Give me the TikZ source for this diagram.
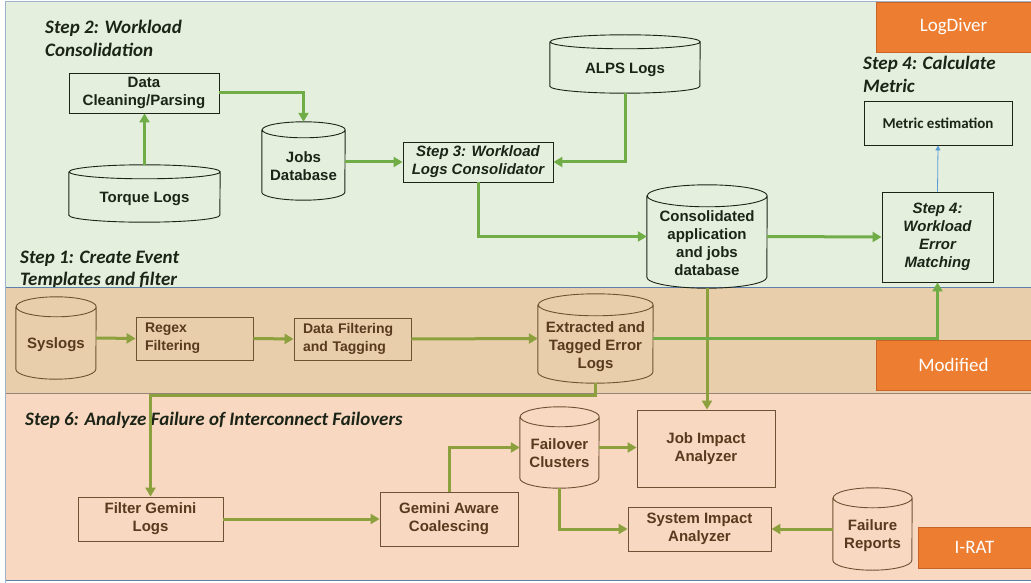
\documentclass[tikz,border=0pt]{standalone}
\usepackage{fontspec}
\usetikzlibrary{arrows.meta,calc}
\newfontfamily\boxfont{Liberation Sans}
\newfontfamily\calfont{Carlito}

\definecolor{bggreen}{RGB}{228,239,221}
\definecolor{bgtan}{RGB}{232,206,170}
\definecolor{bgpeach}{RGB}{248,216,192}
\definecolor{orangebox}{RGB}{237,125,49}
\definecolor{orangeedge}{RGB}{200,100,40}
\definecolor{arrgreen}{RGB}{112,173,71}
\definecolor{arrolive}{RGB}{140,160,62}
\definecolor{gink}{RGB}{28,36,24}
\definecolor{bink}{RGB}{88,58,30}
\definecolor{bline}{RGB}{110,82,52}
\definecolor{panelblue}{RGB}{92,128,170}
\definecolor{panelgray}{RGB}{150,132,118}
\definecolor{thinblue}{RGB}{91,155,213}

% database cylinder: a named body node for the anchors, a label node
% set a little below the centre, and the outline drawn around the body
\newcommand\dbcyl[9]{%
  \node[cylbody, minimum width=#5pt, minimum height=#6pt] (#1) at (#3,#4) {};
  \node[#2] (#1-label) at ($(#1.center)+(0,#8)$) {#9};
  \draw[#2 line] ([yshift=-#7pt]#1.north west) -- ([yshift=#7pt]#1.south west)
     arc[start angle=180, end angle=360, x radius=#5pt/2, y radius=#7pt]
     -- ([yshift=-#7pt]#1.north east)
     arc[start angle=0, end angle=360, x radius=#5pt/2, y radius=#7pt];
}

\tikzset{
  gtxt/.style={text=gink, font=\boxfont\bfseries\fontsize{15}{18}\selectfont, align=center, inner sep=0pt},
  btxt/.style={text=bink, font=\boxfont\bfseries\fontsize{15}{18}\selectfont, align=center, inner sep=0pt},
  gbox/.style={gtxt, draw=gink, line width=0.9pt, rectangle},
  bbox/.style={btxt, draw=bline, line width=0.9pt, rectangle},
  cylbody/.style={rectangle, inner sep=0pt},
  gcyl/.style={gtxt},
  gcyl line/.style={draw=gink, line width=0.9pt},
  bcyl/.style={btxt},
  bcyl line/.style={draw=bline, line width=0.9pt},
  title/.style={text=gink, font=\calfont\bfseries\itshape\fontsize{19}{23}\selectfont, align=left, inner sep=0pt, anchor=base west},
  tag/.style={fill=orangebox, draw=orangeedge, line width=0.8pt, text=white, font=\calfont\fontsize{19}{23}\selectfont, inner sep=0pt},
  ga/.style={draw=arrgreen, line width=3pt, -{Triangle[length=9pt,width=10pt]}},
  oa/.style={draw=arrolive, line width=3pt, -{Triangle[length=9pt,width=10pt]}},
  ba/.style={draw=thinblue, line width=0.8pt, -{Triangle[length=5pt,width=5pt]}},
}

\begin{document}
\begin{tikzpicture}[x=1pt,y=-1pt]
\useasboundingbox (0,0) rectangle (1031,583);

% green panel (LogDiver)
\fill[bggreen] (5,2) rectangle (1031,287);
\draw[panelblue!60, line width=1pt] (5,583) -- (5,2) -- (1031,2);

% step 1 caption sits on the seam, partly covered by the tan panel
\node[title] (t1) at (20,263) {Step 1: Create Event};
\node[title] (t1b) at (20,285) {Templates and filter};

% tan panel (Modified) and peach panel (I-RAT)
\fill[bgtan] (5,287) rectangle (1031,393);
\fill[bgpeach] (5,393) rectangle (1031,580);
\draw[panelblue, line width=1pt] (5,287) -- (1031,287);
\draw[panelgray, line width=1pt] (5,393) -- (1031,393);
\draw[panelblue, line width=1.6pt] (5,580.5) -- (1031,580.5);
\draw[panelblue!60, line width=1pt] (5,2) -- (5,581);

% captions
\node[title] (t2) at (45,34) {Step 2: Workload};
\node[title] (t2b) at (45,57) {Consolidation};
\node[title] (t4) at (863,70) {Step 4: Calculate};
\node[title] (t4b) at (863,93) {Metric};
\node[title] (t6) at (25,425) {Step 6: Analyze Failure of Interconnect Failovers};

% tool tags
\node[tag, minimum width=155pt, minimum height=50pt] (logdiver) at (953.5,27) {LogDiver};
\node[tag, minimum width=155pt, minimum height=50pt] (modified) at (953.5,365) {Modified};
\node[tag, minimum width=113pt, minimum height=41pt] (irat) at (974.5,547.5) {I-RAT};

% workload consolidation
\node[gbox, minimum width=150pt, minimum height=40pt] (clean) at (144,93) {Data\\Cleaning/Parsing};
\dbcyl{torque}{gcyl}{144.5}{193.5}{151}{57}{7}{5}{Torque Logs}
\dbcyl{jobs}{gcyl}{303.5}{161}{83}{78}{8}{5}{Jobs\\Database}
\dbcyl{alps}{gcyl}{625}{64}{150}{58}{7}{6}{ALPS Logs}
\node[gbox, font=\boxfont\bfseries\itshape\fontsize{15}{18}\selectfont, minimum width=150pt, minimum height=40pt] (step3) at (478,162) {Step 3: Workload\\Logs Consolidator};
\dbcyl{cons}{gcyl}{707}{236.5}{120}{103}{11}{7}{Consolidated\\application\\and jobs\\database}
\node[gbox, font=\calfont\bfseries\fontsize{15}{18}\selectfont, minimum width=148pt, minimum height=44pt] (metric) at (938,123) {Metric estimation};
\node[gbox, font=\boxfont\bfseries\itshape\fontsize{15}{18}\selectfont, minimum width=111pt, minimum height=90pt] (match) at (937.5,237) {Step 4:\\Workload\\Error\\Matching};

% event templates and filtering
\dbcyl{sys}{bcyl}{56}{338}{80}{82}{10}{7}{Syslogs}
\node[bbox, font=\boxfont\bfseries\fontsize{14}{18}\selectfont, align=left, text width=99pt, inner xsep=9pt, minimum height=43pt] (regex) at (194.5,338.5) {Regex\\Filtering};
\node[bbox, font=\boxfont\bfseries\fontsize{14}{18}\selectfont, align=left, text width=99pt, inner xsep=9pt, minimum height=42pt] (dft) at (352.5,339) {Data Filtering\\and Tagging};
\dbcyl{ext}{bcyl}{595.5}{338.5}{115}{89}{11}{8}{Extracted and\\Tagged Error\\Logs}

% interconnect failover analysis
\node[bbox, minimum width=145pt, minimum height=44pt] (fgem) at (150.5,519) {Filter Gemini\\Logs};
\node[bbox, minimum width=138pt, minimum height=54pt] (gac) at (449,519) {Gemini Aware\\Coalescing};
\dbcyl{fail}{bcyl}{559.5}{447.5}{79}{81}{10}{6}{Failover\\Clusters}
\node[bbox, minimum width=138pt, minimum height=77pt] (jia) at (706,448.5) {Job Impact\\Analyzer};
\node[bbox, minimum width=143pt, minimum height=44pt] (sia) at (699.5,529) {System Impact\\Analyzer};
\dbcyl{frep}{bcyl}{872.5}{529}{79}{82}{10}{7}{Failure\\Reports}

\coordinate (route) at (0,395);

% connectors
\draw[ga] (torque.north) -- (torque.north |- clean.south);
\draw[ga] (clean.east) -| (jobs.north);
\draw[ga] (step3.west -| jobs.east) -- (step3.west);
\draw[ga] (alps.south) |- (step3.east);
\draw[ga] (step3.south) |- (cons.west);
\draw[ga] (cons.east) -- (match.west);
\draw[ba] (match.north) -- (metric.south);
\draw[oa] (sys.east) -- (regex.west);
\draw[oa] (regex.east) -- (dft.west);
\draw[oa] (dft.east) -- (ext.west);
\draw[oa] (cons.south) -- (cons.south |- jia.north);
\draw[ga] (ext.east) -| (match.south);
\draw[oa] (ext.south) -- (ext.south |- route) -| (fgem.north);
\draw[oa] (fgem.east) -- (gac.west);
\draw[oa] (gac.north) |- (fail.west);
\draw[oa] (fail.east) -- (fail.east -| jia.west);
\draw[oa] (fail.south) |- (sia.west);
\draw[oa] (frep.west) -- (sia.east);
\end{tikzpicture}
\end{document}
